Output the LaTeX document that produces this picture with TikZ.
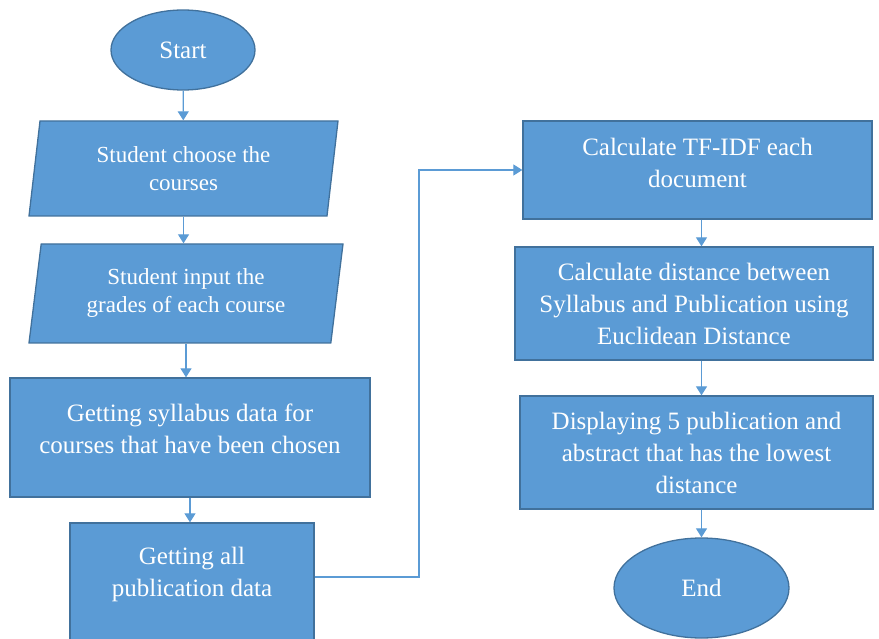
\documentclass[tikz,border=0pt]{standalone}
\usepackage{fontspec}
\setmainfont{Liberation Serif}
\usetikzlibrary{shapes.geometric, arrows.meta}
\definecolor{boxfill}{HTML}{5B9BD5}
\definecolor{boxline}{HTML}{41719C}

\begin{document}
\begin{tikzpicture}[x=1pt, y=-1pt,
base/.style={draw=boxline, fill=boxfill, line width=1.3pt, text=white, align=center, inner sep=0pt},
terminal/.style={base, ellipse, font=\fontsize{25}{32}\selectfont},
io/.style={base, trapezium, trapezium left angle=76, trapezium right angle=104,
  trapezium stretches body=true, font=\fontsize{23}{28}\selectfont},
process/.style={base, rectangle, font=\fontsize{25}{32}\selectfont},
flow/.style={draw=boxfill, line width=1.2pt, -{Triangle[length=9pt,width=11pt]}},]
\useasboundingbox (0,0) rectangle (879,639);
	% left column
	\node[terminal, minimum width=144pt, minimum height=80pt] (start) at (183,50) {Start};
	\node[io, minimum width=309pt, minimum height=95pt] (choose) at (183.5,168.5) {Student choose the\\courses};
	\node[io, minimum width=314pt, minimum height=99pt] (input) at (186,293.5) {Student input the\\grades of each course};
	\node[process, minimum width=360pt, minimum height=119pt, text depth=18pt] (syllabus) at (190,437.5) {Getting syllabus data for\\courses that have been chosen};
	\node[process, minimum width=244pt, minimum height=119pt, text depth=21pt] (pubdata) at (192,582.5) {Getting all\\publication data};
	% right column
	\node[process, minimum width=349pt, minimum height=98pt, text depth=14pt] (tfidf) at (697.5,170) {Calculate TF-IDF each\\document};
	\node[process, minimum width=358pt, minimum height=113pt] (distance) at (694,303.5) {Calculate distance between\\Syllabus and Publication using\\Euclidean Distance};
	\node[process, minimum width=353pt, minimum height=113pt] (display) at (696.5,452.5) {Displaying 5 publication and\\abstract that has the lowest\\distance};
	\node[terminal, minimum width=175pt, minimum height=100pt] (end) at (701.5,588) {End};
	\coordinate (turn) at (419,370);

	\draw[flow] (start) -- (choose);
	\draw[flow] (choose.south) -- (choose.south |- input.north);
	\draw[flow] (input.south) -- (input.south |- syllabus.north);
	\draw[flow] (syllabus.south) -- (syllabus.south |- pubdata.north);
	\draw[flow] ([yshift=5.5pt]pubdata.east) -| (turn) |- (tfidf.west);
	\draw[flow] (tfidf.south -| end.north) -- (distance.north -| end.north);
	\draw[flow] (distance.south -| end.north) -- (display.north -| end.north);
	\draw[flow] (display.south -| end.north) -- (end.north);
\end{tikzpicture}
\end{document}
